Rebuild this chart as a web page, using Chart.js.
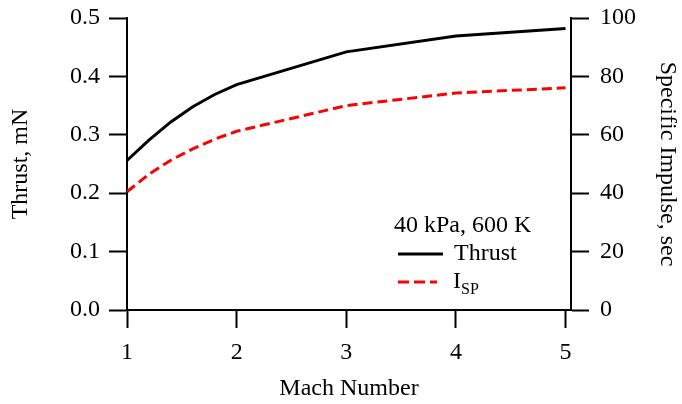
<!DOCTYPE html>
<html>
<head>
<meta charset="utf-8">
<script src="https://cdn.jsdelivr.net/npm/chart.js@4"></script>
<style>
  html, body { margin: 0; padding: 0; background: #fff; }
  #wrap { width: 682px; height: 404px; }
</style>
</head>
<body>
<div id="wrap"><canvas id="thrustChart" width="682" height="404"></canvas></div>
<script>
// Dữ liệu
const machNumbers = [1, 1.2, 1.4, 1.6, 1.8, 2, 3, 4, 5];
const thrustValues = [0.256, 0.291, 0.322, 0.348, 0.369, 0.386, 0.442, 0.469, 0.482]; // mN
const ispValues = [40.5, 46.5, 51.3, 55.2, 58.5, 61.2, 70.0, 74.3, 76.1]; // sec
const machTicks = [1, 2, 3, 4, 5];
const thrustTicks = [0.0, 0.1, 0.2, 0.3, 0.4, 0.5];
const ispTicks = [0, 20, 40, 60, 80, 100];
const legendTitle = "40 kPa, 600 K";

const FONT = "'Liberation Serif', 'Times New Roman', serif";
const font = { family: FONT, size: 24 };

// Chú thích tự vẽ
const legendPlugin = {
  id: "boxLegend",
  afterDraw(chart) {
    const c = chart.ctx;
    c.save();
    c.fillStyle = "#000";
    c.textBaseline = "middle";
    c.font = "24px " + FONT;
    c.fillText(legendTitle, 394, 226);

    c.lineWidth = 3;
    c.strokeStyle = "#000";
    c.beginPath(); c.moveTo(398, 254); c.lineTo(443, 254); c.stroke();
    c.fillText("Thrust", 454, 254);

    c.strokeStyle = "#ff0000";
    c.setLineDash([11, 5]);
    c.beginPath(); c.moveTo(398, 282); c.lineTo(437, 282); c.stroke();
    c.setLineDash([]);
    c.fillText("I", 453, 282);
    c.font = "16px " + FONT;
    c.fillText("SP", 461, 290);
    c.restore();
  }
};

const axisGrid = {
  drawOnChartArea: false,
  drawTicks: true,
  tickLength: 18,
  tickWidth: 2,
  tickColor: "#000",
};

// giữ vùng vẽ bắt đầu ở y = 18
const fixPad = (s, w) => { s.width = w; s.paddingTop = 18; s.paddingBottom = 0; };

new Chart(document.getElementById("thrustChart"), {
  type: "line",
  data: {
    datasets: [
      {
        label: "Thrust",
        data: machNumbers.map((m, i) => ({ x: m, y: thrustValues[i] })),
        borderColor: "#000",
        borderWidth: 3,
        pointRadius: 0,
        tension: 0,
        yAxisID: "y",
      },
      {
        label: "ISP",
        data: machNumbers.map((m, i) => ({ x: m, y: ispValues[i] })),
        borderColor: "#ff0000",
        borderWidth: 3,
        borderDash: [10, 5],
        pointRadius: 0,
        tension: 0,
        yAxisID: "y2",
      },
    ],
  },
  options: {
    responsive: false,
    animation: false,
    devicePixelRatio: 1,
    layout: { padding: 0 },
    plugins: { legend: { display: false }, tooltip: { enabled: false } },
    scales: {
      x: {
        type: "linear",
        min: 1,
        max: 5.05,
        afterBuildTicks: (s) => { s.ticks = machTicks.map(v => ({ value: v })); },
        afterFit: (s) => { s.height = 94; },
        border: { display: true, color: "#000", width: 2 },
        grid: axisGrid,
        ticks: { color: "#000", font: font, padding: 10, maxRotation: 0 },
        title: { display: true, text: "Mach Number", color: "#000", font: font, padding: { top: 0, bottom: 1 } },
      },
      y: {
        position: "left",
        min: 0,
        max: 0.5,
        afterBuildTicks: (s) => { s.ticks = thrustTicks.map(v => ({ value: v })); },
        afterFit: (s) => fixPad(s, 127),
        border: { display: true, color: "#000", width: 2 },
        grid: axisGrid,
        ticks: { color: "#000", font: font, padding: 9, callback: (v) => v.toFixed(1) },
        title: { display: true, text: "Thrust, mN", color: "#000", font: font, padding: { top: 6, bottom: 0 } },
      },
      y2: {
        position: "right",
        min: 0,
        max: 100,
        afterBuildTicks: (s) => { s.ticks = ispTicks.map(v => ({ value: v })); },
        afterFit: (s) => fixPad(s, 111),
        border: { display: true, color: "#000", width: 2 },
        grid: axisGrid,
        ticks: { color: "#000", font: font, padding: 11 },
        title: { display: true, text: "Specific Impulse, sec", color: "#000", font: font, padding: { top: 0, bottom: 0 } },
      },
    },
  },
  plugins: [legendPlugin],
});
</script>
</body>
</html>
